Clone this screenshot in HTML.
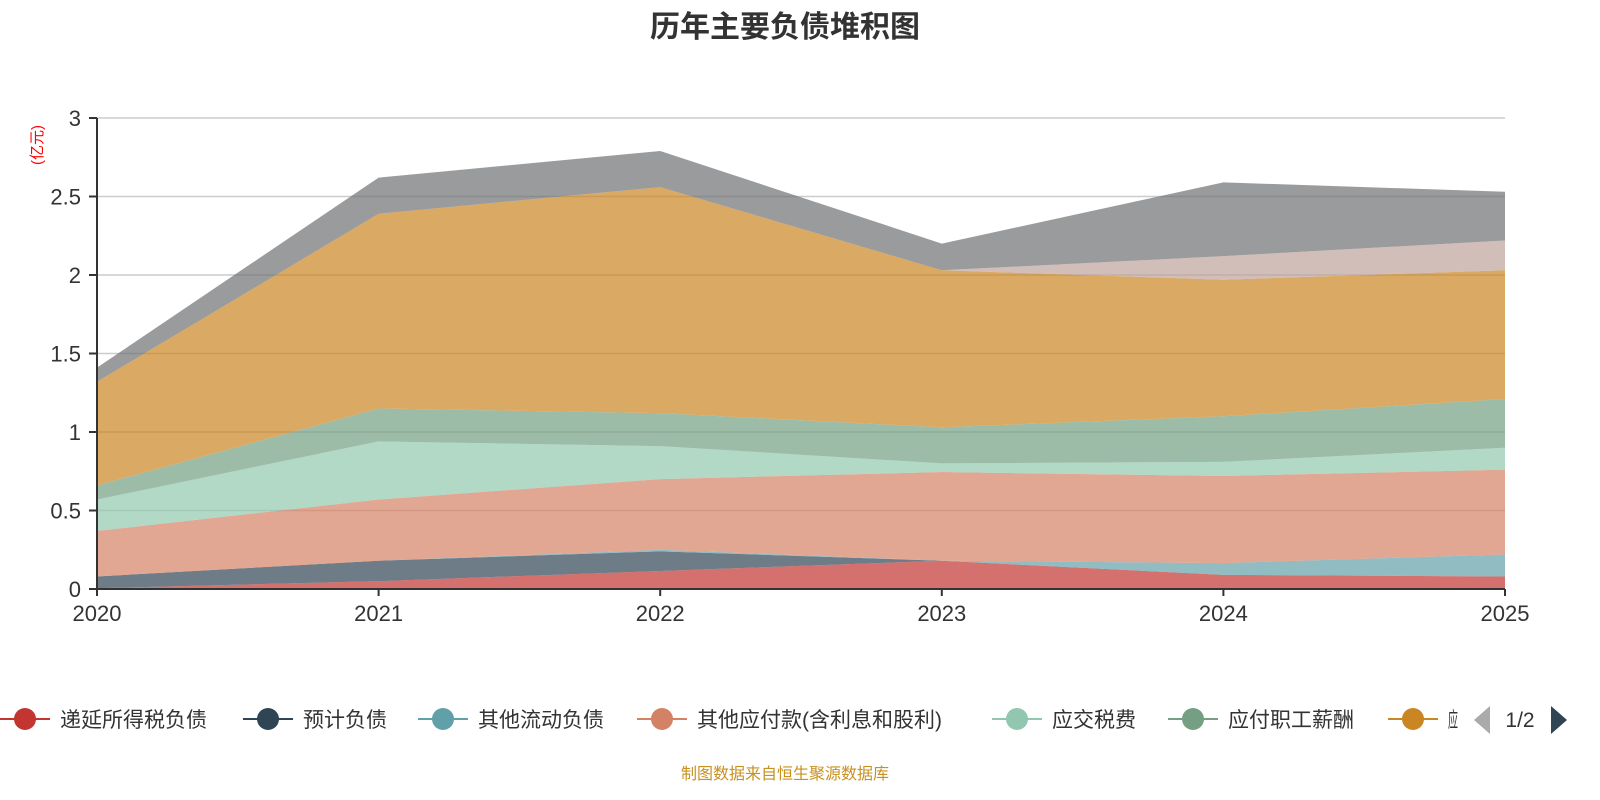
<!DOCTYPE html>
<html><head><meta charset="utf-8"><style>
body{margin:0;background:#fff;}
svg{display:block;font-family:"Liberation Sans","Noto Sans CJK SC",sans-serif;}
</style></head><body>
<svg id="c" width="1600" height="800">
<text x="785" y="37" text-anchor="middle" font-size="30" font-weight="bold" fill="#333">历年主要负债堆积图</text>
<text transform="translate(42,145) rotate(-90)" text-anchor="middle" font-size="15" fill="#ff0000">(亿元)</text>
<g id="grid"></g><g id="areas"></g><g id="axes"></g><g id="legend"></g>
<text x="785" y="779" text-anchor="middle" font-size="16" fill="#c8901f">制图数据来自恒生聚源数据库</text>
</svg>
<script>
const years=['2020','2021','2022','2023','2024','2025'];
const seriesNames=['递延所得税负债','预计负债','其他流动负债','其他应付款(含利息和股利)','应交税费','应付职工薪酬','应付账款','其他','短期借款'];
const sDeferredTax=[0.005,0.05,0.115,0.18,0.09,0.08];
const sProvisions=[0.075,0.13,0.125,0,0,0];
const sOtherCurrent=[0,0,0.01,0,0.075,0.14];
const sOtherPayables=[0.29,0.39,0.45,0.565,0.555,0.54];
const sTaxes=[0.2,0.37,0.21,0.055,0.09,0.14];
const sPayroll=[0.09,0.21,0.21,0.23,0.29,0.31];
const sAccounts=[0.66,1.24,1.44,1.0,0.87,0.82];
const sPink=[0,0,0,0,0.15,0.19];
const sGray=[0.09,0.23,0.23,0.17,0.47,0.31];
const yTicks=[0,0.5,1,1.5,2,2.5,3];
const yTickLabels=['0','0.5','1','1.5','2','2.5','3'];
const series=[sDeferredTax,sProvisions,sOtherCurrent,sOtherPayables,sTaxes,sPayroll,sAccounts,sPink,sGray];
const colors=['#c23531','#2f4554','#61a0a8','#d48265','#91c7ae','#749f83','#ca8622','#bda29a','#6e7074'];
const NS='http://www.w3.org/2000/svg';
const x0=97,x1=1505,y0=589,y1=118,yMax=3;
const X=i=>x0+(x1-x0)*i/(years.length-1);
const Y=v=>y0-(y0-y1)*v/yMax;
function mk(t,a,p){const e=document.createElementNS(NS,t);for(const k in a)e.setAttribute(k,a[k]);p.appendChild(e);return e;}
const grid=document.getElementById('grid'),axes=document.getElementById('axes'),areas=document.getElementById('areas'),legend=document.getElementById('legend');
yTicks.forEach((v,i)=>{
 if(v>0){const l=mk('line',{x1:x0,x2:x1,y1:Y(v),y2:Y(v),stroke:'#ccc','stroke-width':1.5},grid);
 
 }
 const t=mk('line',{x1:x0-8,x2:x0,y1:Y(v),y2:Y(v),stroke:'#333','stroke-width':2},axes);
 
 
 const tx=mk('text',{x:x0-16,y:Y(v)+8,'text-anchor':'end','font-size':22,fill:'#333'},axes);
 tx.textContent=yTickLabels[i];
 
 
});
let cum=years.map(()=>0);
series.forEach((s,k)=>{
 const lo=cum.slice();cum=cum.map((c,i)=>c+s[i]);
 let d='M'+years.map((_,i)=>X(i)+','+Y(cum[i])).join('L');
 for(let i=years.length-1;i>=0;i--)d+='L'+X(i)+','+Y(lo[i]);
 const p=mk('path',{d:d+'Z',fill:colors[k],'fill-opacity':0.7},areas);
 
 
});
const ax=mk('line',{x1:x0,x2:x0,y1:y1,y2:y0,stroke:'#333','stroke-width':2},axes);


const bx=mk('line',{x1:x0,x2:x1,y1:y0,y2:y0,stroke:'#333','stroke-width':2},axes);


years.forEach((y,i)=>{
 const t=mk('line',{x1:X(i),x2:X(i),y1:y0,y2:y0+7,stroke:'#333','stroke-width':2},axes);
 
 
 const tx=mk('text',{x:X(i),y:y0+32,'text-anchor':'middle','font-size':22,fill:'#333'},axes);
 tx.textContent=y;
 
 
});
const legX=[25,268,443,662,1017,1193,1413];
legX.forEach((lx,k)=>{
 const g=mk('g',{},legend);
 
 
 mk('line',{x1:lx-25,x2:lx+25,y1:719,y2:719,stroke:colors[k],'stroke-width':2},g);
 mk('circle',{cx:lx,cy:719,r:11,fill:colors[k]},g);
 const t=mk('text',{x:lx+35,y:727,'font-size':21,fill:'#333'},g);
 t.textContent=k<6?seriesNames[k]:'应';
 if(k==6){t.setAttribute('textLength','10');t.setAttribute('lengthAdjust','spacingAndGlyphs');}
});
const pl=mk('path',{d:'M1490,706 L1474,720 L1490,734Z',fill:'#aaa'},legend);


const pt=mk('text',{x:1520,y:727,'text-anchor':'middle','font-size':21,fill:'#333'},legend);
pt.textContent='1/2';


const pn=mk('path',{d:'M1551,706 L1567,720 L1551,734Z',fill:'#2f4554'},legend);


</script>
</body></html>
